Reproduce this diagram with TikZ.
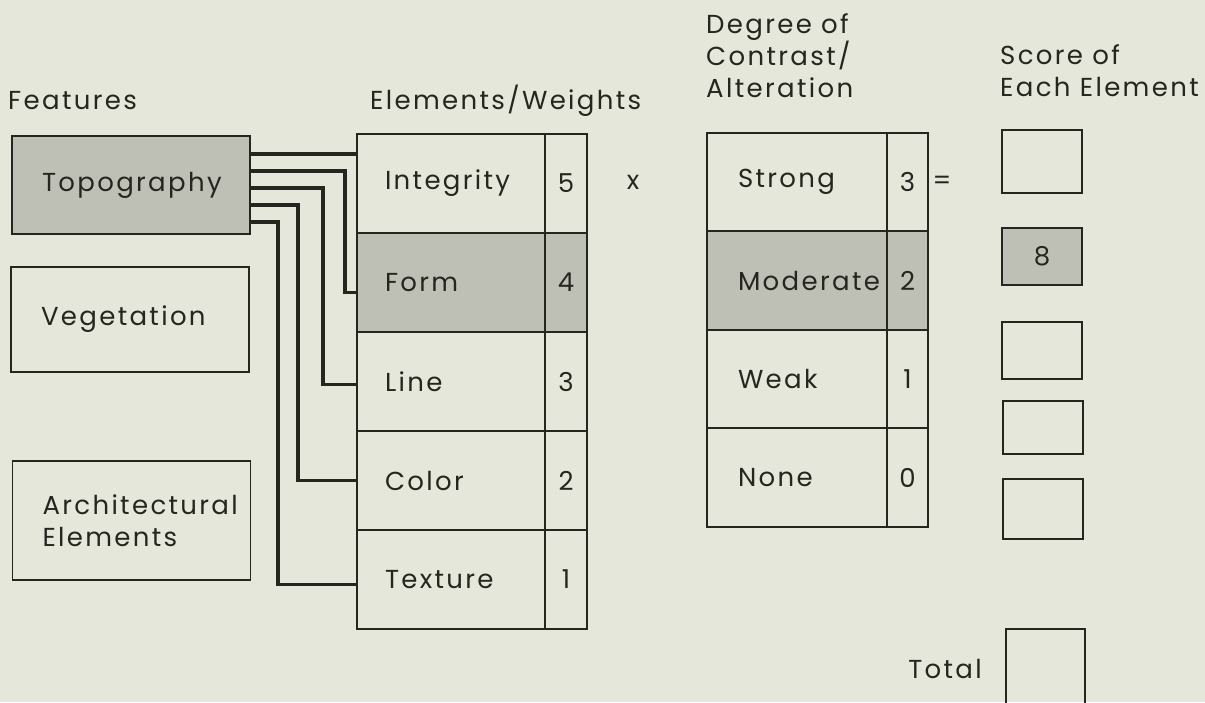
\documentclass[tikz,border=0pt]{standalone}
\usepackage{fontspec}
\setmainfont{Poppins}[LetterSpace=9]
\usetikzlibrary{positioning}
\definecolor{paper}{RGB}{229,231,218}
\definecolor{shade}{RGB}{190,192,181}
\definecolor{ink}{RGB}{38,38,33}
\newcommand\cellfont{\fontsize{26}{32}\selectfont}
\tikzset{
  cell/.style={draw=ink, line width=1.6pt, outer sep=0pt, inner ysep=0pt,
               font=\cellfont, text=ink},
  featbox/.style={cell, minimum width=238pt, text width=178pt, inner xsep=30pt, align=left},
  elem/.style={cell, minimum height=99pt, text width=132pt, inner xsep=28pt, align=left},
  wt/.style={cell, minimum width=42pt, minimum height=99pt, inner xsep=0pt},
  deg/.style={cell, minimum height=98.5pt, text width=118pt, inner xsep=31pt, align=left},
  dwt/.style={cell, minimum width=41pt, minimum height=98.5pt, inner xsep=0pt},
  score/.style={cell, minimum width=80pt, minimum height=57pt, inner xsep=0pt},
  lbl/.style={font=\cellfont, text=ink, inner sep=0pt, align=left},
  conn/.style={draw=ink, line width=3.2pt},
}
\begin{document}
\begin{tikzpicture}[x=1pt, y=-1pt]
  \fill[paper] (0,0) rectangle (1205,702);
  \useasboundingbox (0,0) rectangle (1205,702);

  % column heads
  \node[lbl, anchor=base west] (hfeat) at (8,109) {Features};
  \node[lbl, anchor=base west] (helem) at (370,109) {Elements/Weights};
  \node[lbl, anchor=north west] (hdeg) at (706,13) {Degree of\\Contrast/\\Alteration};
  \node[lbl, anchor=north west] (hscore) at (1000,44) {Score of\\Each Element};

  % features
  \node[featbox, fill=shade, minimum height=98pt] (topo) at (131,185) {Topography};
  \node[featbox, minimum height=105pt] (veg) at (130,319.5) {Vegetation};
  \node[featbox, minimum height=119pt] (arch) at (131.5,520.5) {Architectural\\Elements};

  % elements and weights
  \node[elem] (integ) at (451,183.5) {Integrity};
  \node[elem, fill=shade, below=0pt of integ] (form) {Form};
  \node[elem, below=0pt of form] (line) {Line};
  \node[elem, below=0pt of line] (color) {Color};
  \node[elem, below=0pt of color] (texture) {Texture};
  \node[wt, right=0pt of integ] (w5) {5};
  \node[wt, fill=shade, right=0pt of form] (w4) {4};
  \node[wt, right=0pt of line] (w3) {3};
  \node[wt, right=0pt of color] (w2) {2};
  \node[wt, right=0pt of texture] (w1) {1};

  \node[lbl] (times) at (633,182) {x};

  % degree of contrast
  \node[deg] (strong) at (797,182) {Strong};
  \node[deg, fill=shade, below=0pt of strong] (moderate) {Moderate};
  \node[deg, below=0pt of moderate] (weak) {Weak};
  \node[deg, below=0pt of weak] (none) {None};
  \node[dwt, right=0pt of strong] (d3) {3};
  \node[dwt, fill=shade, right=0pt of moderate] (d2) {2};
  \node[dwt, right=0pt of weak] (d1) {1};
  \node[dwt, right=0pt of none] (d0) {0};

  \node[lbl] (equals) at (942,183) {=};

  % scores
  \node[score, minimum height=63pt] (s1) at (1042,161.5) {};
  \node[score, fill=shade] (s2) at (1042,256.5) {8};
  \node[score] (s3) at (1042,350.5) {};
  \node[score, minimum height=53pt] (s4) at (1043,427.5) {};
  \node[score, minimum height=60pt] (s5) at (1043,509) {};
  \node[score, minimum width=79pt, minimum height=80pt] (total) at (1045.5,669) {};
  \node[lbl, left=24pt of total] (totlbl) {Total};

  % topography to its elements
  \coordinate (t1) at ([yshift=-18pt]topo.north east);
  \coordinate (t2) at ([yshift=-35pt]topo.north east);
  \coordinate (t3) at ([yshift=-52pt]topo.north east);
  \coordinate (t4) at ([yshift=-69pt]topo.north east);
  \coordinate (t5) at ([yshift=-86pt]topo.north east);
  \draw[conn] (t1) -- (t1 -| integ.west);
  \draw[conn] (t2) -| ([xshift=-12pt,yshift=-10pt]form.west) -- ([yshift=-10pt]form.west);
  \draw[conn] (t3) -| ([xshift=-34pt,yshift=-3pt]line.west) -- ([yshift=-3pt]line.west);
  \draw[conn] (t4) -| ([xshift=-59pt]color.west) -- (color.west);
  \draw[conn] (t5) -| ([xshift=-79pt,yshift=-5pt]texture.west) -- ([yshift=-5pt]texture.west);
\end{tikzpicture}
\end{document}
